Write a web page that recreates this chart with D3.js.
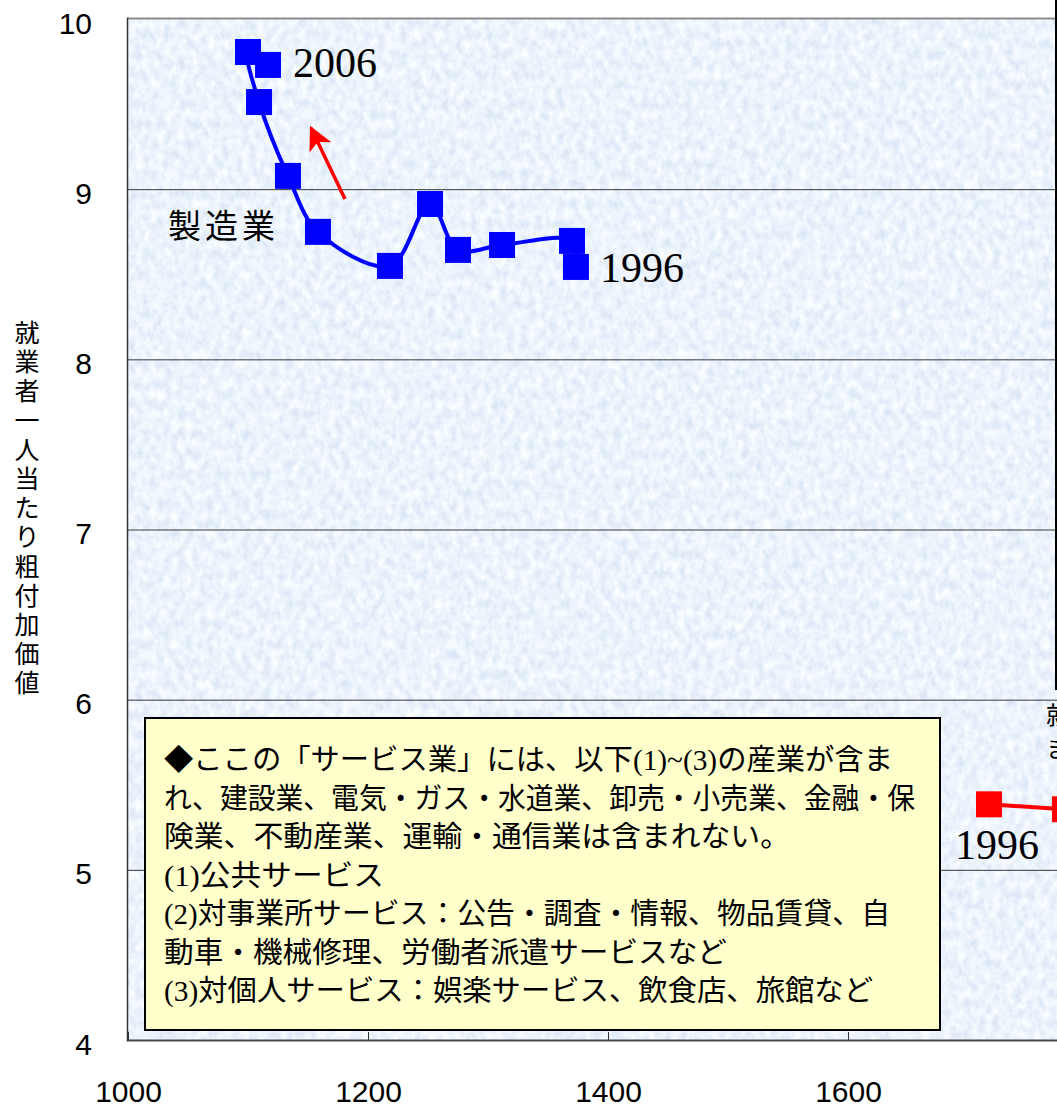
<!DOCTYPE html>
<html lang="ja">
<head>
<meta charset="utf-8">
<script src="https://cdn.jsdelivr.net/npm/d3@7"></script>
<style>
  html, body { margin: 0; padding: 0; background: #ffffff; overflow: hidden; }
  svg { display: block; }
  .tick-label { font-family: "Liberation Sans", Arial, sans-serif; font-size: 30px; fill: #000; }
  .jp { font-family: "Noto Sans CJK JP", "Noto Sans CJK SC", sans-serif; fill: #000; }
  .serif { font-family: "Liberation Serif", "Times New Roman", serif; fill: #000; }
</style>
</head>
<body>
<svg id="chart" width="1057" height="1112"></svg>
<script>
// 就業者数（万人） vs 就業者一人当たり粗付加価値
const xTicks = [1000, 1200, 1400, 1600, 1800];
const yTicks = [4, 5, 6, 7, 8, 9, 10];

// 製造業 1996–2006
const mfgYears = [1996, 1997, 1998, 1999, 2000, 2001, 2002, 2003, 2004, 2005, 2006];
const mfgWorkers = [1373.3, 1370.0, 1311.7, 1275.0, 1251.7, 1218.3, 1158.3, 1133.3, 1109.2, 1100.0, 1116.7];
const mfgValue = [8.543, 8.696, 8.672, 8.643, 8.913, 8.549, 8.749, 9.078, 9.512, 9.806, 9.730];

// サービス業
const svcYears = [1996, 1997];
const svcWorkers = [1717.5, 1780.8];
const svcValue = [5.385, 5.356];

const yAxisTitle = "就業者一人当たり粗付加価値";
const mfgName = "製造業";

// Trend arrow (tail → head) in data units
const arrowFrom = [1180.8, 8.942];
const arrowTo = [1152.5, 9.360];

const noteLines = [
  [["jp", "◆ここの「サービス業」には、以下"], ["serif", "(1)~(3)"], ["jp", "の産業が含ま"]],
  [["jp", "れ、建設業、電気・ガス・水道業、卸売・小売業、金融・保"]],
  [["jp", "険業、不動産業、運輸・通信業は含まれない。"]],
  [["serif", "(1)"], ["jp", "公共サービス"]],
  [["serif", "(2)"], ["jp", "対事業所サービス：公告・調査・情報、物品賃貸、自"]],
  [["jp", "動車・機械修理、労働者派遣サービスなど"]],
  [["serif", "(3)"], ["jp", "対個人サービス：娯楽サービス、飲食店、旅館など"]]
];
const noteLineEnds = [893, 915, 790, 384, 890, 727, 873];

const svg = d3.select("#chart");
const plot = { left: 128, top: 19, bottom: 1040, right: 1328 };

const x = d3.scaleLinear().domain([1000, 2000]).range([plot.left, plot.right]);
const y = d3.scaleLinear().domain([4, 10]).range([plot.bottom, plot.top]);

const defs = svg.append("defs");
const paper = defs.append("filter").attr("id", "paper")
  .attr("x", 0).attr("y", 0).attr("width", 1).attr("height", 1);
paper.append("feTurbulence").attr("type", "fractalNoise")
  .attr("baseFrequency", "0.14 0.10").attr("numOctaves", 3).attr("seed", 7).attr("result", "noise");
paper.append("feColorMatrix").attr("in", "noise").attr("type", "matrix")
  .attr("values", "0.42 0 0 0 0.63  0.32 0 0 0 0.74  0.14 0 0 0 0.90  0 0 0 0 1");

defs.append("clipPath").attr("id", "plotClip").append("rect")
  .attr("x", plot.left).attr("y", plot.top - 14)
  .attr("width", plot.right - plot.left).attr("height", plot.bottom - plot.top + 14);

// textured plot background
svg.append("rect")
  .attr("x", plot.left).attr("y", plot.top)
  .attr("width", plot.right - plot.left).attr("height", plot.bottom - plot.top)
  .attr("fill", "#d8e7f8").attr("filter", "url(#paper)");

// horizontal gridlines
svg.append("g")
  .attr("transform", `translate(${plot.left},0)`)
  .call(d3.axisLeft(y).tickValues(yTicks.filter(v => v > 4 && v < 10))
    .tickSize(-(plot.right - plot.left)).tickFormat(""))
  .call(g => g.select(".domain").remove())
  .call(g => g.selectAll("line").attr("stroke", "#3a3a3a").attr("stroke-width", 1));

// y tick labels
svg.append("g")
  .attr("transform", `translate(${plot.left},0)`)
  .call(d3.axisLeft(y).tickValues(yTicks).tickSize(0).tickPadding(36).tickFormat(d3.format("d")))
  .call(g => g.select(".domain").remove())
  .call(g => g.selectAll("text").attr("class", "tick-label").attr("dy", 14)
    .attr("font-size", null).attr("font-family", null));

// x axis: inward ticks + labels
svg.append("g")
  .attr("transform", `translate(0,${plot.bottom})`)
  .call(d3.axisBottom(x).tickValues(xTicks).tickSize(-8).tickFormat(d3.format("d")))
  .call(g => g.select(".domain").remove())
  .call(g => g.selectAll("line").attr("stroke", "#333").attr("stroke-width", 1))
  .call(g => g.selectAll("text").attr("class", "tick-label").attr("y", 62).attr("dy", 0)
    .attr("font-size", null).attr("font-family", null));

// plot frame
svg.append("line").attr("x1", plot.left).attr("x2", plot.right)
  .attr("y1", plot.top - 0.5).attr("y2", plot.top - 0.5)
  .attr("stroke", "#8c8c8c").attr("stroke-width", 2);
svg.append("line").attr("x1", plot.left).attr("x2", plot.right)
  .attr("y1", plot.bottom + 0.5).attr("y2", plot.bottom + 0.5)
  .attr("stroke", "#4a4a4a").attr("stroke-width", 2);
svg.append("line").attr("x1", plot.left - 0.5).attr("x2", plot.left - 0.5)
  .attr("y1", plot.top - 1.5).attr("y2", plot.bottom + 1.5)
  .attr("stroke", "#333").attr("stroke-width", 1.5);

// y axis title, one glyph per row
svg.append("g").selectAll("text")
  .data(Array.from(yAxisTitle))
  .join("text")
  .attr("class", "jp")
  .attr("x", 27)
  .attr("y", (d, i) => 331 + i * 29.2)
  .attr("text-anchor", "middle")
  .attr("dominant-baseline", "central")
  .attr("font-size", 25)
  .text(d => d);

const series = svg.append("g").attr("clip-path", "url(#plotClip)");
const line = d3.line().curve(d3.curveCatmullRom.alpha(0.5));

const mfgPts = mfgWorkers.map((w, i) => [x(w), y(mfgValue[i])]);
const svcPts = svcWorkers.map((w, i) => [x(w), y(svcValue[i])]);

series.append("path").attr("d", line(mfgPts))
  .attr("fill", "none").attr("stroke", "#0000ff").attr("stroke-width", 4).attr("stroke-linejoin", "round");
series.append("path").attr("d", line(svcPts))
  .attr("fill", "none").attr("stroke", "#ff0000").attr("stroke-width", 4).attr("stroke-linejoin", "round");

const M = 26;
series.append("g").selectAll("rect").data(mfgPts).join("rect")
  .attr("x", d => d[0] - M / 2).attr("y", d => d[1] - M / 2)
  .attr("width", M).attr("height", M).attr("fill", "#0000ff");
series.append("g").selectAll("rect").data(svcPts).join("rect")
  .attr("x", d => d[0] - M / 2).attr("y", d => d[1] - M / 2)
  .attr("width", M).attr("height", M).attr("fill", "#ff0000");

// year labels
const last = mfgPts.length - 1;
svg.append("text").attr("class", "serif").attr("font-size", 42)
  .attr("x", mfgPts[last][0] + 25).attr("y", mfgPts[last][1] + 12)
  .text(mfgYears[last]);
svg.append("text").attr("class", "serif").attr("font-size", 42)
  .attr("x", mfgPts[0][0] + 24).attr("y", mfgPts[0][1] + 15)
  .text(mfgYears[0]);
svg.append("text").attr("class", "serif").attr("font-size", 42)
  .attr("x", svcPts[0][0] - 34).attr("y", svcPts[0][1] + 55)
  .text(svcYears[0]);

// series name
svg.append("text").attr("class", "jp").attr("font-size", 33)
  .attr("x", x(1033.3)).attr("y", y(8.796))
  .attr("dominant-baseline", "central").attr("letter-spacing", 4)
  .text(mfgName);

// trend arrow
defs.append("marker").attr("id", "arrowHead")
  .attr("viewBox", "0 0 10 10").attr("refX", 9).attr("refY", 5)
  .attr("markerUnits", "userSpaceOnUse")
  .attr("markerWidth", 24).attr("markerHeight", 24).attr("orient", "auto")
  .append("path").attr("d", "M0,0 L10,5 L0,10 L2.5,5 Z").attr("fill", "#ff0000");
svg.append("line")
  .attr("x1", x(arrowFrom[0])).attr("y1", y(arrowFrom[1]))
  .attr("x2", x(arrowTo[0])).attr("y2", y(arrowTo[1]))
  .attr("stroke", "#ff0000").attr("stroke-width", 3.5)
  .attr("marker-end", "url(#arrowHead)");

// note box
const box = { x: 145, y: 718, w: 795, h: 312 };
svg.append("rect")
  .attr("x", box.x).attr("y", box.y).attr("width", box.w).attr("height", box.h)
  .attr("fill", "#ffffcc").attr("stroke", "#000").attr("stroke-width", 2);

const noteStartX = 164;
noteLines.forEach((parts, i) => {
  const t = svg.append("text")
    .attr("x", noteStartX)
    .attr("y", 760 + i * 38.5 + 10)
    .attr("font-size", 29)
    .attr("textLength", noteLineEnds[i] - noteStartX)
    .attr("lengthAdjust", "spacingAndGlyphs");
  parts.forEach(([cls, str]) => t.append("tspan").attr("class", cls).text(str));
});

// partial elements at the right edge
svg.append("line").attr("x1", 1056).attr("x2", 1056).attr("y1", 0).attr("y2", 690)
  .attr("stroke", "#000").attr("stroke-width", 2);
svg.append("text").attr("class", "jp").attr("font-size", 24)
  .attr("x", 1046).attr("y", 713).attr("dominant-baseline", "central").text("就");
svg.append("text").attr("class", "jp").attr("font-size", 24)
  .attr("x", 1046).attr("y", 746).attr("dominant-baseline", "central").text("ま");
</script>
</body>
</html>
